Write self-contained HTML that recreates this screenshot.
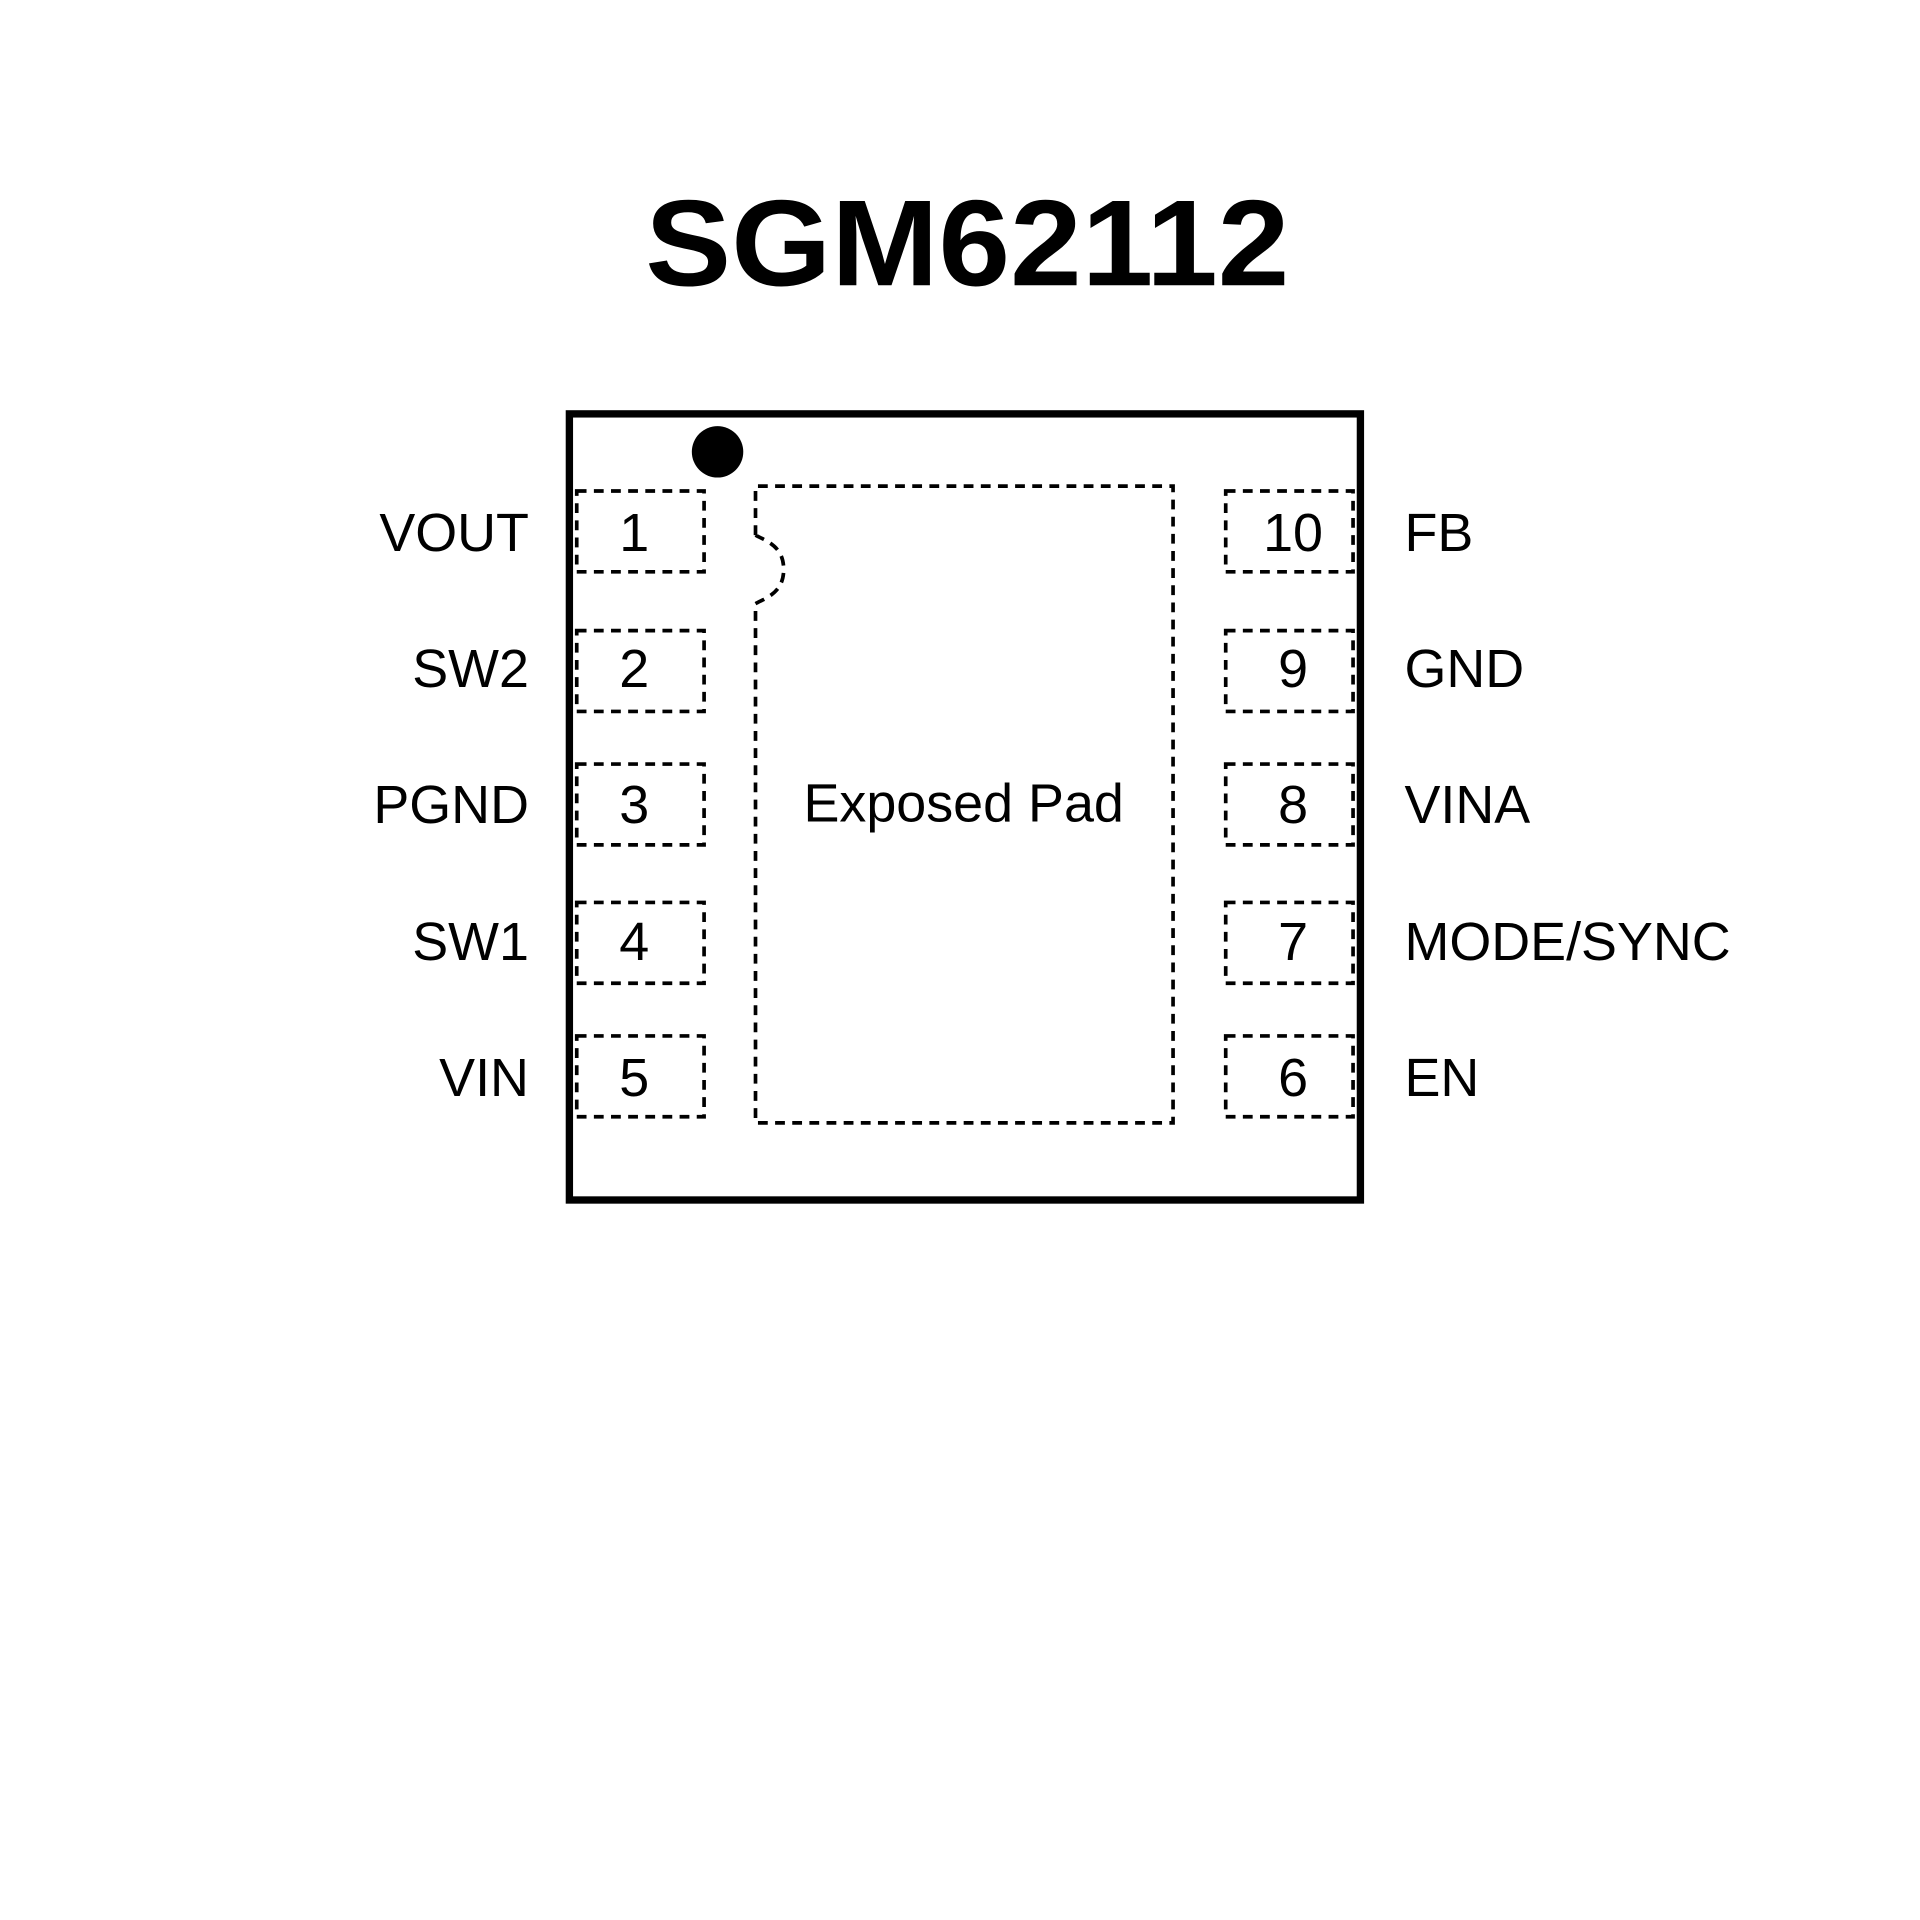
<!DOCTYPE html>
<html><head><style>html,body{margin:0;padding:0;background:#fff}svg{display:block}</style></head>
<body>
<svg width="1920" height="1920" viewBox="0 0 1568 1568" xmlns="http://www.w3.org/2000/svg">
<rect width="1568" height="1568" fill="#fff"/>
<text x="790" y="233" text-anchor="middle" font-family="Liberation Sans, sans-serif" font-weight="bold" font-size="100" textLength="526" lengthAdjust="spacingAndGlyphs">SGM62112</text>
<rect x="465" y="338" width="646" height="642" fill="none" stroke="#000" stroke-width="6"/>
<circle cx="586" cy="369" r="21" fill="#000"/>
<g fill="none" stroke="#000" stroke-width="3" stroke-dasharray="8,6">
<path d="M617,437 L617,397 L958,397 L958,917 L617,917 L617,493 C626,488 640,484 640,465 C640,446 626,442 617,437"/>
<rect x="471" y="401" width="104" height="66"/>
<rect x="471" y="515" width="104" height="66"/>
<rect x="471" y="624" width="104" height="66"/>
<rect x="471" y="737" width="104" height="66"/>
<rect x="471" y="846" width="104" height="66"/>
<rect x="1001" y="401" width="104" height="66"/>
<rect x="1001" y="515" width="104" height="66"/>
<rect x="1001" y="624" width="104" height="66"/>
<rect x="1001" y="737" width="104" height="66"/>
<rect x="1001" y="846" width="104" height="66"/>
</g>
<g font-family="Liberation Sans, sans-serif" font-size="44" fill="#000">
<g text-anchor="middle">
<text x="518" y="450">1</text><text x="518" y="561">2</text><text x="518" y="672">3</text><text x="518" y="784">4</text><text x="518" y="895">5</text>
<text x="1056" y="450">10</text><text x="1056" y="561">9</text><text x="1056" y="672">8</text><text x="1056" y="784">7</text><text x="1056" y="895">6</text>
<text x="787" y="671">Exposed Pad</text>
</g>
<g text-anchor="end">
<text x="432" y="450">VOUT</text><text x="432" y="561">SW2</text><text x="432" y="672">PGND</text><text x="432" y="784">SW1</text><text x="432" y="895">VIN</text>
</g>
<text x="1147" y="450">FB</text><text x="1147" y="561">GND</text><text x="1147" y="672">VINA</text><text x="1147" y="784">MODE/SYNC</text><text x="1147" y="895">EN</text>
</g>
</svg>
</body></html>
